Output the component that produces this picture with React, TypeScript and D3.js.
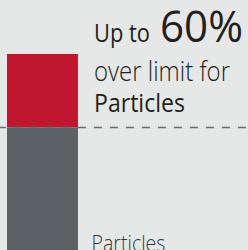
import React from "react";
import * as d3 from "d3";

const categories = ["Particles"];
const limitValues = [100];
const actualValues = [160];
const overPercent = [60];
const headline = ["Up to", "over limit for"];

const W = 248;
const H = 250;
const BG = "#e6e7e7";
const RED = "#c1162f";
const GREY = "#5c6166";
const TEXT = "#231f20";
const FONT = "'Open Sans', 'Noto Sans', sans-serif";

export default function App() {
  const x = d3.scaleBand<string>().domain(categories).range([7, 78]).padding(0);
  const y = d3.scaleLinear().domain([0, 160]).range([250, 54]);
  const cat = categories[0];
  const limit = limitValues[0];
  const actual = actualValues[0];
  const limitY = y(limit);

  return (
    <svg
      width={W}
      height={H}
      style={{ position: "fixed", left: 0, top: 0, display: "block" }}
    >
      <rect x={0} y={0} width={W} height={H} fill={BG} />
      {/* over-limit part */}
      <rect
        x={x(cat)}
        y={y(actual)}
        width={x.bandwidth()}
        height={y(limit) - y(actual)}
        fill={RED}
      />
      {/* within-limit part */}
      <rect
        x={x(cat)}
        y={y(limit)}
        width={x.bandwidth()}
        height={y(0) - y(limit)}
        fill={GREY}
      />
      {/* limit line */}
      <line
        x1={0}
        x2={W}
        y1={limitY}
        y2={limitY}
        stroke="#6a6e71"
        strokeWidth={1.5}
        strokeDasharray="8 8"
        strokeDashoffset={2}
      />
      <text
        x={94}
        y={42}
        fontFamily={FONT}
        fontSize={25}
        fontWeight={500}
        fill={TEXT}
        textLength={56}
        lengthAdjust="spacingAndGlyphs"
      >
        {headline[0]}
      </text>
      <text x={160} y={42} fontFamily={FONT} fontSize={43} fontWeight={500} fill={TEXT} textLength={83} lengthAdjust="spacingAndGlyphs">
        {overPercent[0]}%
      </text>
      <text
        x={94}
        y={81}
        fontFamily={FONT}
        fontSize={27}
        fontWeight={300}
        fill={TEXT}
        textLength={136}
        lengthAdjust="spacingAndGlyphs"
      >
        {headline[1]}
      </text>
      <text
        x={94}
        y={111.5}
        fontFamily={FONT}
        fontSize={25}
        fontWeight={500}
        fill={TEXT}
        textLength={91}
        lengthAdjust="spacingAndGlyphs"
      >
        {cat}
      </text>
      <text
        x={91.5}
        y={250.5}
        fontFamily={FONT}
        fontSize={22}
        fontWeight={300}
        fill="#3a3a3c"
        textLength={74}
        lengthAdjust="spacingAndGlyphs"
      >
        {cat}
      </text>
    </svg>
  );
}
